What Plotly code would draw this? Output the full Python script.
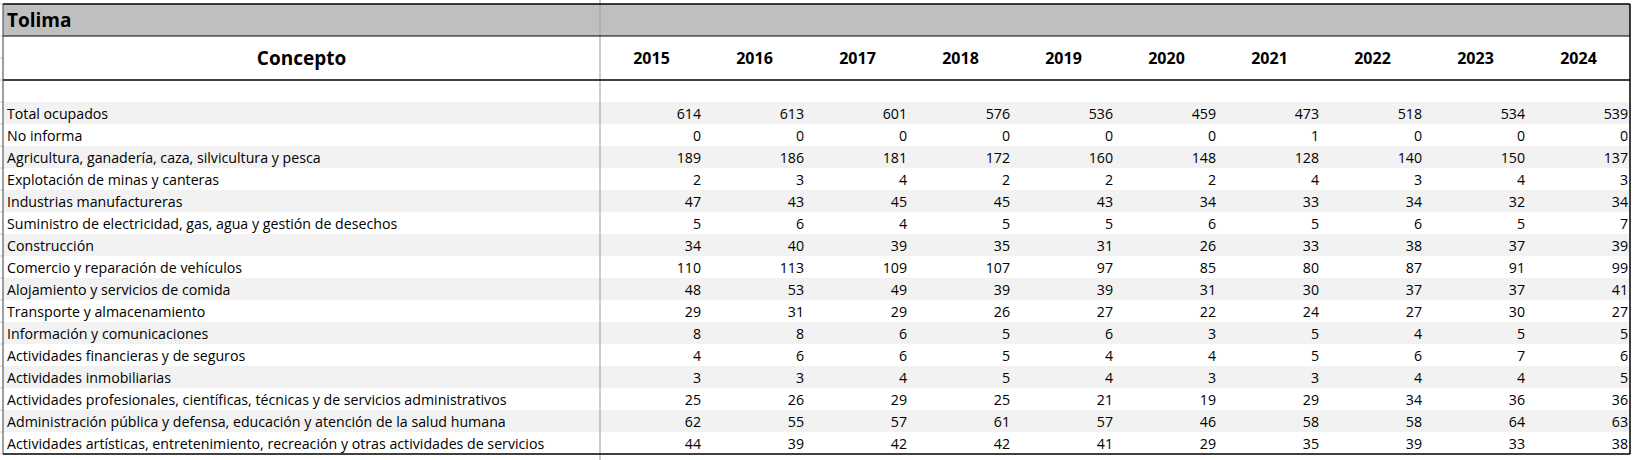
import plotly.graph_objects as go

region = "Tolima"
header_label = "Concepto"
years = ["2015", "2016", "2017", "2018", "2019", "2020", "2021", "2022", "2023", "2024"]

conceptos = [
    "Total ocupados",
    "No informa",
    "Agricultura, ganadería, caza, silvicultura y pesca",
    "Explotación de minas y canteras",
    "Industrias manufactureras",
    "Suministro de electricidad, gas, agua y gestión de desechos",
    "Construcción",
    "Comercio y reparación de vehículos",
    "Alojamiento y servicios de comida",
    "Transporte y almacenamiento",
    "Información y comunicaciones",
    "Actividades financieras y de seguros",
    "Actividades inmobiliarias",
    "Actividades profesionales, científicas, técnicas y de servicios administrativos",
    "Administración pública y defensa, educación y atención de la salud humana",
    "Actividades artísticas, entretenimiento, recreación y otras actividades de servicios",
]

total_ocupados = [614, 613, 601, 576, 536, 459, 473, 518, 534, 539]
no_informa = [0, 0, 0, 0, 0, 0, 1, 0, 0, 0]
agricultura = [189, 186, 181, 172, 160, 148, 128, 140, 150, 137]
minas = [2, 3, 4, 2, 2, 2, 4, 3, 4, 3]
manufactura = [47, 43, 45, 45, 43, 34, 33, 34, 32, 34]
electricidad = [5, 6, 4, 5, 5, 6, 5, 6, 5, 7]
construccion = [34, 40, 39, 35, 31, 26, 33, 38, 37, 39]
comercio = [110, 113, 109, 107, 97, 85, 80, 87, 91, 99]
alojamiento = [48, 53, 49, 39, 39, 31, 30, 37, 37, 41]
transporte = [29, 31, 29, 26, 27, 22, 24, 27, 30, 27]
informacion = [8, 8, 6, 5, 6, 3, 5, 4, 5, 5]
financieras = [4, 6, 6, 5, 4, 4, 5, 6, 7, 6]
inmobiliarias = [3, 3, 4, 5, 4, 3, 3, 4, 4, 5]
profesionales = [25, 26, 29, 25, 21, 19, 29, 34, 36, 36]
administracion = [62, 55, 57, 61, 57, 46, 58, 58, 64, 63]
artisticas = [44, 39, 42, 42, 41, 29, 35, 39, 33, 38]

valores = [total_ocupados, no_informa, agricultura, minas, manufactura, electricidad,
           construccion, comercio, alojamiento, transporte, informacion, financieras,
           inmobiliarias, profesionales, administracion, artisticas]

# sheet geometry in page pixels (axes map 1:1 onto the page)
W, H = 1647, 460
LEFT, SEP, RIGHT = 3, 600, 1630
COL_W = (RIGHT - SEP) / len(years)
TOP, BAND_B, HEAD_B, DATA_T = 4, 36, 80, 102
ROW_H = 22
BOTTOM = DATA_T + ROW_H * len(conceptos)
FONT = "Open Sans"


def col_right(j):
    return SEP + COL_W * (j + 1)


def row_mid(i):
    # text sits a little low in the cell, like the sheet
    return DATA_T + ROW_H * i + ROW_H / 2 + 2


fig = go.Figure()

# row labels
fig.add_trace(go.Scatter(
    x=[LEFT + 4] * len(conceptos),
    y=[row_mid(i) for i in range(len(conceptos))],
    text=conceptos,
    mode="text",
    textposition="middle right",
    textfont=dict(family=FONT, size=14.2, color="black"),
    hoverinfo="skip",
    cliponaxis=False,
))

# numbers, right aligned per year column
for j, yr in enumerate(years):
    fig.add_trace(go.Scatter(
        x=[col_right(j) - 2] * len(conceptos),
        y=[row_mid(i) for i in range(len(conceptos))],
        text=[str(v[j]) for v in valores],
        mode="text",
        textposition="middle left",
        textfont=dict(family=FONT, size=14.2, color="black"),
        hoverinfo="skip",
        cliponaxis=False,
    ))

# year headers
head_mid = (BAND_B + HEAD_B) / 2 + 2
fig.add_trace(go.Scatter(
    x=[col_right(j) - COL_W / 2 for j in range(len(years))],
    y=[head_mid] * len(years),
    text=["<b>%s</b>" % y for y in years],
    mode="text",
    textposition="middle center",
    textfont=dict(family=FONT, size=16, color="black"),
    hoverinfo="skip",
))

# title cells
fig.add_trace(go.Scatter(
    x=[(LEFT + SEP) / 2],
    y=[head_mid],
    text=["<b>%s</b>" % header_label],
    mode="text",
    textposition="middle center",
    textfont=dict(family=FONT, size=19, color="black"),
    hoverinfo="skip",
))
fig.add_trace(go.Scatter(
    x=[LEFT + 4],
    y=[(TOP + BAND_B) / 2 + 2],
    text=["<b>%s</b>" % region],
    mode="text",
    textposition="middle right",
    textfont=dict(family=FONT, size=19, color="black"),
    hoverinfo="skip",
    cliponaxis=False,
))

shapes = []
# gray band
shapes.append(dict(type="rect", x0=LEFT, x1=RIGHT, y0=TOP, y1=BAND_B,
                   fillcolor="#bfbfbf", line_width=0, layer="below"))
# zebra stripes
for i in range(len(conceptos)):
    if i % 2 == 0:
        shapes.append(dict(type="rect", x0=LEFT, x1=RIGHT,
                           y0=DATA_T + ROW_H * i, y1=DATA_T + ROW_H * (i + 1),
                           fillcolor="#f2f2f2", line_width=0, layer="below"))
# sheet gridline stubs on the far left
for yy in [TOP, BAND_B, (BAND_B + HEAD_B) / 2, HEAD_B] + [DATA_T + ROW_H * i for i in range(len(conceptos) + 1)]:
    shapes.append(dict(type="line", x0=0, x1=LEFT, y0=yy, y1=yy,
                       line=dict(color="#c8c8c8", width=1)))
# column separator
shapes.append(dict(type="line", x0=SEP, x1=SEP, y0=0, y1=H,
                   line=dict(color="#9a9a9a", width=1)))
# horizontal rules
for yy, wd in [(TOP, 1.5), (BAND_B, 1.2), (HEAD_B, 1.5), (BOTTOM, 1.5)]:
    shapes.append(dict(type="line", x0=LEFT, x1=RIGHT, y0=yy, y1=yy,
                       line=dict(color="black", width=wd)))
# outer verticals
shapes.append(dict(type="line", x0=LEFT, x1=LEFT, y0=TOP, y1=BOTTOM,
                   line=dict(color="#404040", width=1)))
shapes.append(dict(type="line", x0=RIGHT, x1=RIGHT, y0=TOP, y1=BOTTOM,
                   line=dict(color="black", width=1.5)))

fig.update_layout(
    width=W, height=H,
    margin=dict(l=0, r=0, t=0, b=0),
    paper_bgcolor="white", plot_bgcolor="white",
    showlegend=False,
    shapes=shapes,
    xaxis=dict(range=[0, W], visible=False, fixedrange=True),
    yaxis=dict(range=[H, 0], visible=False, fixedrange=True),
)

# drop the default body margin so the figure sits at the page corner
fig.write_html("out.html", config=dict(displayModeBar=False),
               post_script="document.body.style.margin='0px';")
